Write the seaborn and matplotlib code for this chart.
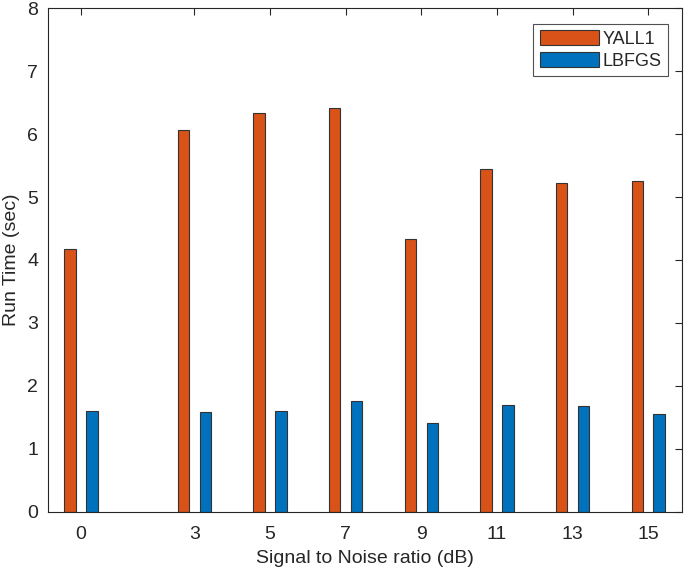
import matplotlib
matplotlib.use("Agg")
import matplotlib.pyplot as plt
import seaborn as sns
import pandas as pd

snr = [0, 3, 5, 7, 9, 11, 13, 15]
yall1 = [4.17, 6.06, 6.33, 6.42, 4.34, 5.44, 5.22, 5.26]
lbfgs = [1.61, 1.58, 1.60, 1.76, 1.42, 1.70, 1.69, 1.56]
methods = ["YALL1", "LBFGS"]
colors = ["#D95319", "#0072BD"]

df = pd.DataFrame({
    "snr": snr * 2,
    "time": yall1 + lbfgs,
    "method": [methods[0]] * len(snr) + [methods[1]] * len(snr),
})

sns.set_style("white")
plt.rcParams["font.family"] = ["Liberation Sans", "DejaVu Sans"]

fig = plt.figure(figsize=(6.85, 5.73), dpi=100)
ax = fig.add_axes([0.070, 0.1065, 0.926, 0.8795])

sns.barplot(data=df, x="snr", y="time", hue="method", hue_order=methods,
            palette=colors, saturation=1, native_scale=True, width=0.58, gap=0.48,
            edgecolor="#333333", linewidth=0.8, errorbar=None, ax=ax)

ax.set_xlim(-0.87, 15.9)
ax.set_ylim(0, 8)
ax.set_xticks(snr)
ax.set_xticklabels([str(s) for s in snr])
ax.set_yticks(range(0, 9))
ax.tick_params(direction="in", top=True, right=True, length=5, width=0.8,
               labelsize=14, colors="#262626", pad=7)
ax.tick_params(axis="x", pad=10)
for s in ax.spines.values():
    s.set_color("#262626")
    s.set_linewidth(0.8)
ax.set_xlabel("Signal to Noise ratio (dB)", fontsize=14, color="#262626", labelpad=5)
ax.set_ylabel("Run Time (sec)", fontsize=14, color="#262626", labelpad=5)

leg = ax.legend(loc="upper right", fontsize=13, frameon=True, fancybox=False,
                edgecolor="#262626", handlelength=3.3, handleheight=0.9,
                handletextpad=0.2, borderpad=0.35, labelspacing=0.2,
                borderaxespad=0, bbox_to_anchor=(0.978, 0.968))
leg.get_frame().set_linewidth(0.8)
leg.set_title(None)

fig.savefig("out.png", dpi=100)
